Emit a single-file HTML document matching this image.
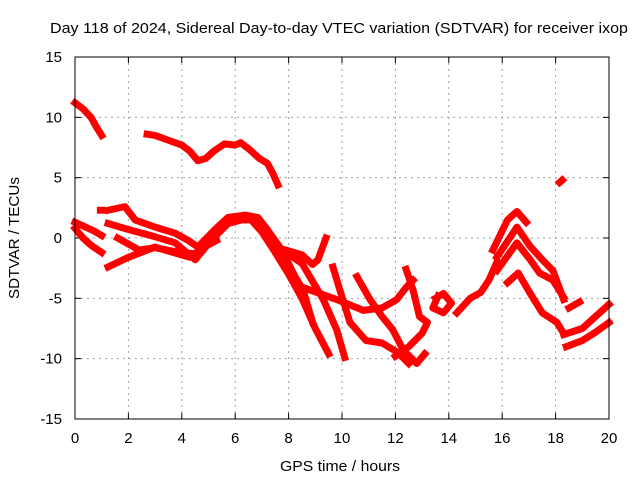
<!DOCTYPE html>
<html><head><meta charset="utf-8"><style>
body{margin:0;background:#fff;}
svg{display:block;font-family:"Liberation Sans",sans-serif;}
</style></head><body>
<svg id="chart" width="640" height="480">
<text x="339" y="33" text-anchor="middle" font-size="15" textLength="578" lengthAdjust="spacingAndGlyphs" fill="#000">Day 118 of 2024, Sidereal Day-to-day VTEC variation (SDTVAR) for receiver ixop</text>
<text x="340" y="471" text-anchor="middle" font-size="15" textLength="120" lengthAdjust="spacingAndGlyphs">GPS time / hours</text>
<text transform="translate(19,238) rotate(-90)" text-anchor="middle" font-size="15" textLength="122" lengthAdjust="spacingAndGlyphs">SDTVAR / TECUs</text>
<g id="grid"></g><g id="ticks"></g><g id="marks"></g>
<rect x="75" y="57" width="534" height="362" fill="none" stroke="#000" stroke-width="1"/>
</svg>
<script>
const xTicks=[0,2,4,6,8,10,12,14,16,18,20];
const yTicks=[-15,-10,-5,0,5,10,15];
const s1=[[0,11.2],[0.3,10.7],[0.6,10],[0.8,9.2],[1.0,8.5]];
const s2=[[2.7,8.6],[3.0,8.5],[3.5,8.1],[4.0,7.7],[4.3,7.2],[4.6,6.4],[4.9,6.6],[5.2,7.2],[5.6,7.8],[6.0,7.7],[6.2,7.9],[6.5,7.4],[6.9,6.6],[7.2,6.2],[7.4,5.4],[7.6,4.4]];
const s3=[[0,1.3],[0.3,1.0],[0.7,0.6],[1.0,0.2]];
const s4=[[0,0.8],[0.3,0],[0.6,-0.6],[1.0,-1.2]];
const s5=[[1.24,2.3],[1.87,2.6],[2.25,1.5],[3.0,0.9],[3.75,0.4],[4.24,-0.2],[4.6,-0.75],[5.24,0.7],[5.73,1.7],[6.37,1.9],[6.85,1.7],[7.2,0.7],[7.75,-1.0],[8.24,-3.2],[8.54,-4.3],[8.9,-7]];
const s6=[[1.24,1.2],[2.0,0.7],[3.0,0.1],[3.75,-0.4],[4.5,-1.8],[5.1,-0.2],[5.73,1.2],[6.25,1.5],[6.6,1.5],[7.0,0.5],[7.5,-1.2],[8.0,-3],[8.5,-5],[9.0,-7.5],[9.5,-9.6]];
const s7=[[1.24,-2.4],[2.0,-1.6],[3.0,-0.75],[3.75,-1.25],[4.3,-1.6],[4.8,-0.8],[5.3,-0.2]];
const s8=[[1.6,0],[2.4,-1],[3.0,-0.8],[3.9,-1.2],[4.5,-1.3]];
const s9=[[7.9,-1],[8.5,-1.4],[8.9,-2.2],[9.1,-1.8],[9.4,0]];
const s10=[[7.9,-1.2],[8.5,-2.1],[9.3,-5.1],[9.8,-7.6],[10.1,-9.9]];
const s11=[[9.66,-2.4],[10,-4.9],[10.3,-7],[10.9,-8.5],[11.5,-8.7],[12.1,-9.5],[12.5,-10.4]];
const s12=[[10.56,-3.2],[11.05,-5.1],[11.5,-6.5],[11.9,-7.6],[12.3,-9.3],[12.8,-10.4],[13.1,-9.6]];
const s13=[[12.4,-2.6],[12.66,-4.3],[12.9,-6.5],[13.2,-7],[13.0,-7.9],[12.5,-9],[12.0,-9.8]];
const s14=[[8.54,-4.1],[9.8,-5.1],[10.8,-6],[11.5,-5.8],[12.05,-5.1],[12.4,-4.1],[12.66,-3.5]];
const s15=[[13.5,-5],[13.8,-4.6],[14.1,-5.4],[13.8,-6.2],[13.4,-5.8],[13.6,-4.8]];
const s16=[[14.3,-6.2],[14.8,-5],[15.2,-4.5],[15.5,-3.5],[15.8,-2]];
const s17=[[15.65,-1],[16.2,1.5],[16.55,2.2],[16.9,1.3]];
const s18=[[15.8,-1.6],[16.55,0.9],[17.05,-0.7],[17.5,-1.8],[17.9,-2.7],[18.3,-5.1]];
const s19=[[15.8,-2.7],[16.55,-0.4],[17.05,-1.8],[17.4,-2.9],[17.9,-3.5],[18.3,-4.9]];
const s20=[[16.2,-3.7],[16.6,-2.9],[17.05,-4.6],[17.5,-6.2],[18.05,-7],[18.3,-7.9]];
const s21=[[18.3,-8],[19,-7.5],[20,-5.5]];
const s22=[[18.4,-9],[19,-8.5],[19.5,-7.8],[20,-7]];
const s23=[[18.5,-5.8],[18.9,-5.3]];
const s24=[[18.15,4.6],[18.25,4.8]];
const s25=[[0.95,2.3],[1.0,2.3]];
const series=[s1,s2,s3,s4,s5,s6,s7,s8,s9,s10,s11,s12,s13,s14,s15,s16,s17,s18,s19,s20,s21,s22,s23,s24,s25];
const X0=75,X1=609,Y0=419,Y1=57;
function xs(v){return X0+(v-0)/(20-0)*(X1-X0);}
function ys(v){return Y0-(v+15)/30*(Y0-Y1);}
const NS="http://www.w3.org/2000/svg";
const grid=document.getElementById('grid'),ticks=document.getElementById('ticks'),marks=document.getElementById('marks');
function mk(t,a,p){const e=document.createElementNS(NS,t);for(const k in a)e.setAttribute(k,a[k]);p.appendChild(e);return e;}
xTicks.forEach(v=>{const x=xs(v);
 if(v>0&&v<20){const g=mk('line',{x1:x,x2:x,y1:Y1,y2:Y0,stroke:'#a0a0a0','stroke-dasharray':'2,4'},grid);
 
 }
 const t=mk('text',{x:x,y:443,'text-anchor':'middle','font-size':15},ticks);t.textContent=v;
 
 
 mk('line',{x1:x,x2:x,y1:Y0,y2:Y0-6,stroke:'#000'},ticks);mk('line',{x1:x,x2:x,y1:Y1,y2:Y1+6,stroke:'#000'},ticks);
});
yTicks.forEach(v=>{const y=ys(v);
 if(v>-15&&v<15){const g=mk('line',{x1:X0,x2:X1,y1:y,y2:y,stroke:'#a0a0a0','stroke-dasharray':'2,4'},grid);
 
 }
 const t=mk('text',{x:62,y:y+5,'text-anchor':'end','font-size':15},ticks);t.textContent=v;
 
 
 mk('line',{x1:X0,x2:X0+6,y1:y,y2:y,stroke:'#000'},ticks);mk('line',{x1:X1,x2:X1-6,y1:y,y2:y,stroke:'#000'},ticks);
});
series.forEach(s=>{
 const p=mk('polyline',{points:s.map(d=>xs(d[0])+','+ys(d[1])).join(' '),fill:'none',stroke:'#ff0000','stroke-width':7,'stroke-linejoin':'round','stroke-linecap':'square'},marks);
 
 
});
</script>
</body></html>
